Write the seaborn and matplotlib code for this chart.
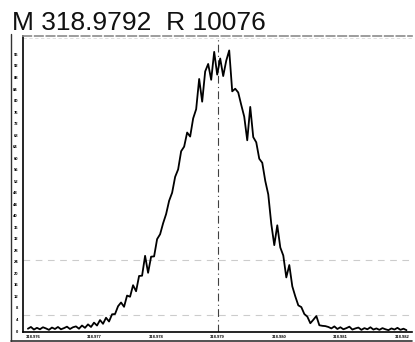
import numpy as np
import pandas as pd
import matplotlib
matplotlib.use('Agg')
import matplotlib.pyplot as plt
import seaborn as sns
from matplotlib.lines import Line2D

TITLE = 'M 318.9792  R 10076'
CENTER = 318.9792

MZ_START = 318.97612
MZ_END = 318.98227

INTENSITY = [
    0.8, 1.4, 0.5, 1.1, 0.6, 1.3, 0.9, 0.4, 1.2, 0.7,
    1.4, 0.6, 1.0, 1.5, 0.7, 1.3, 1.6, 0.8, 1.9, 1.1,
    2.3, 1.4, 2.9, 1.9, 3.8, 2.5, 4.6, 3.3, 5.8, 5.9,
    8.6, 9.9, 8.4, 12.3, 11.9, 15.9, 13.8, 19.1, 19.2, 26.1,
    20.2, 25.8, 25.9, 31.9, 33.6, 37.4, 40.6, 45.2, 48.0, 53.5,
    56.1, 62.4, 64.0, 68.9, 67.5, 73.8, 77.0, 87.5, 79.6, 90.1,
    92.7, 87.2, 96.9, 89.0, 94.6, 88.5, 93.8, 97.4, 83.2, 84.1,
    82.8, 78.5, 74.4, 66.2, 77.8, 67.3, 65.5, 59.8, 58.4, 52.1,
    47.4, 37.2, 29.8, 36.7, 29.0, 26.2, 18.6, 22.9, 15.5, 12.0,
    8.9, 8.3, 5.9, 5.0, 2.7, 3.9, 5.2, 2.0, 1.8, 1.7,
    1.4, 0.9, 1.6, 0.7, 1.3, 0.6, 1.0, 1.5, 0.5, 0.9,
    1.2, 0.4, 1.0, 0.6, 1.3, 0.5, 0.9, 0.4, 1.0, 0.6,
    0.3, 0.9, 0.5, 1.1, 0.4, 0.8, 0.3,
]

X_TICKS = [318.9762, 318.9772, 318.9782, 318.9792, 318.9802, 318.9812, 318.9822]
X_LABELS = ['318.976', '318.977', '318.978', '318.979', '318.980', '318.981', '318.982']
Y_TICKS = list(range(0, 100, 4))
GRID_LEVELS = [24.6, 5.5]

df = pd.DataFrame({
    'mz': np.linspace(MZ_START, MZ_END, len(INTENSITY)),
    'intensity': INTENSITY,
})

sns.set_theme(style='white')
plt.rcParams['font.family'] = ['Liberation Sans', 'DejaVu Sans']

fig = plt.figure(figsize=(4.15, 3.42), dpi=100)
ax = fig.add_axes([0.0554, 0.0292, 0.9374, 0.8655])

for lvl in GRID_LEVELS:
    ax.axhline(lvl, color='0.8', lw=0.8, ls=(0, (6, 5)), zorder=0)
ax.axhline(101.6, color='0.85', lw=0.6, ls=(0, (4, 3)), zorder=0)
ax.axvline(CENTER, color='0.25', lw=0.8, ls=(0, (7, 3, 1, 3)), zorder=1)

sns.lineplot(data=df, x='mz', y='intensity', ax=ax, color='black',
             lw=1.3, sort=False, estimator=None, zorder=3)

ax.set_xlim(318.97604, 318.98236)
ax.set_ylim(-0.35, 102.4)
ax.set_xticks(X_TICKS)
ax.set_xticklabels(X_LABELS, fontweight='bold')
ax.set_yticks(Y_TICKS)
ax.set_yticklabels([str(t) for t in Y_TICKS], fontweight='bold')
ax.set_xlabel('')
ax.set_ylabel('')
ax.tick_params(axis='both', labelsize=3.0, colors='black', length=3, width=1.1, pad=0.6)
ax.tick_params(axis='x', direction='inout')
ax.tick_params(axis='y', direction='out')

for side in ['left', 'bottom']:
    ax.spines[side].set_color('black')
    ax.spines[side].set_linewidth(1.2)
ax.spines['right'].set_visible(False)
ax.spines['top'].set_color('0.55')
ax.spines['top'].set_linewidth(1.2)
ax.spines['top'].set_linestyle((0, (5, 2)))

# outer frame of the scanned panel
fig.add_artist(Line2D([11 / 415, 11 / 415], [1 - 341 / 342, 1 - 34 / 342],
                      transform=fig.transFigure, color='0.2', lw=1.0))
fig.add_artist(Line2D([11 / 415, 412 / 415], [1 - 341 / 342, 1 - 341 / 342],
                      transform=fig.transFigure, color='0.2', lw=1.2))

fig.text(0.029, 0.912, TITLE, fontsize=19, color='#111111', ha='left', va='baseline')

fig.savefig('out.png', dpi=100, facecolor='white')
